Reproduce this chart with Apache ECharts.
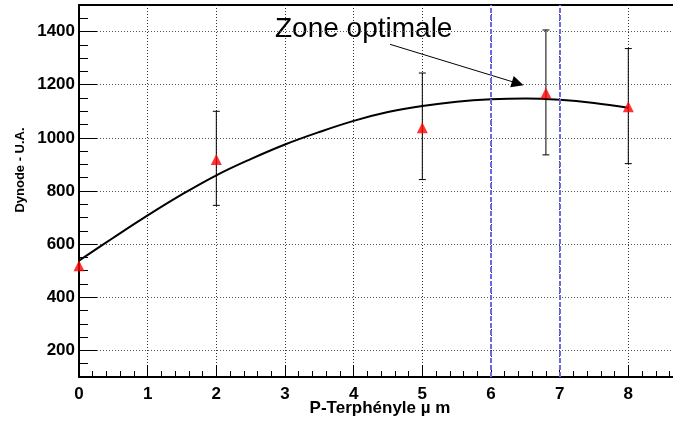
<!DOCTYPE html>
<html><head><meta charset="utf-8">
<script src="https://cdn.jsdelivr.net/npm/echarts@6/dist/echarts.min.js"></script>
<style>html,body{margin:0;padding:0;background:#fff}#c{width:673px;height:421px}</style>
</head><body><div id="c"></div>
<script>
// measured points (P-Terphényle thickness, dynode signal)
const pointX = [0, 2, 5, 6.8, 8];
const pointY = [519, 919, 1038, 1169, 1117];
const errLow = [null, 746, 843, 936, 903];
const errHigh = [null, 1100, 1244, 1406, 1336];
// fitted curve
const curveX = [0, 0.5, 1, 1.5, 2, 2.5, 3, 3.5, 4, 4.5, 5, 5.5, 6, 6.5, 7, 7.5, 8];
const curveY = [538, 624, 708, 787, 859, 920, 975, 1022, 1064, 1097, 1120, 1136, 1145, 1148, 1143, 1131, 1113];
// optimal zone bounds
const zoneX = [6, 7];
// annotation
const annotText = 'Zone optimale';
const arrowFrom = [4.53, 1352];
const arrowTo = [6.39, 1205];
const xTitle = 'P-Terphényle µ m';
const yTitle = 'Dynode - U.A.';

const X_MIN = 0, X_MAX = 8.68, Y_MIN = 100, Y_MAX = 1500;
const font = 'Liberation Sans, Arial, Helvetica, sans-serif';

const chart = echarts.init(document.getElementById('c'), null, {renderer: 'canvas'});

const errData = pointX.map((x, i) => [x, errLow[i], errHigh[i]]).filter(d => d[1] != null);

chart.setOption({
  animation: false,
  backgroundColor: '#fff',
  grid: {left: 79, right: -2, top: 5, bottom: 44, show: true, borderColor: '#000', borderWidth: 2, outerBoundsMode: 'none', containLabel: false},
  xAxis: [{
    type: 'value', min: X_MIN, max: X_MAX, interval: 1, position: 'bottom',
    axisLine: {show: true, lineStyle: {color: '#000', width: 2}},
    axisTick: {show: true, inside: true, length: 12, lineStyle: {color: '#000', width: 1}},
    axisLabel: {show: true, showMaxLabel: false, margin: 9, color: '#000', fontFamily: font, fontWeight: 'bold', fontSize: 17, formatter: v => String(v)},
    splitLine: {show: true, showMinLine: false, showMaxLine: false, lineStyle: {color: '#333', width: 1, type: [1, 2]}}
  }, {
    type: 'value', min: X_MIN, max: X_MAX, interval: 0.2, position: 'bottom',
    axisLine: {show: false},
    axisTick: {show: true, inside: true, length: 6, lineStyle: {color: '#000', width: 1}},
    axisLabel: {show: false}, splitLine: {show: false}
  }],
  yAxis: [{
    type: 'value', min: Y_MIN, max: Y_MAX, splitNumber: 7, position: 'left',
    axisLine: {show: true, lineStyle: {color: '#000', width: 2}},
    axisTick: {show: true, inside: true, length: 18, lineStyle: {color: '#000', width: 1}},
    axisLabel: {show: true, showMinLabel: false, showMaxLabel: false, margin: 4, color: '#000', fontFamily: font, fontWeight: 'bold', fontSize: 17, formatter: v => String(v)},
    splitLine: {show: true, showMinLine: false, showMaxLine: false, lineStyle: {color: '#555', width: 1, type: [1, 2]}}
  }, {
    type: 'value', min: Y_MIN, max: Y_MAX, interval: 50, position: 'left',
    axisLine: {show: false},
    axisTick: {show: true, inside: true, length: 9, lineStyle: {color: '#000', width: 1}},
    axisLabel: {show: false}, splitLine: {show: false}
  }],
  series: [
    {
      type: 'line', name: 'fit', xAxisIndex: 0, yAxisIndex: 0,
      data: curveX.map((x, i) => [x, curveY[i]]),
      smooth: 0.4, showSymbol: false, symbol: 'none',
      lineStyle: {color: '#000', width: 2}, z: 3,
      markLine: {
        silent: true, animation: false,
        symbol: ['none', 'triangle'], symbolSize: 12,
        label: {show: false},
        lineStyle: {color: '#000', width: 1, type: 'solid'},
        itemStyle: {color: '#000'},
        data: [[{coord: arrowFrom}, {coord: arrowTo}]]
      }
    },
    {
      type: 'custom', name: 'err', xAxisIndex: 0, yAxisIndex: 0,
      data: errData, z: 4,
      renderItem: function (params, api) {
        const x = api.value(0), lo = api.value(1), hi = api.value(2);
        const p1 = api.coord([x, hi]), p2 = api.coord([x, lo]);
        const w = 3.5;
        const st = {stroke: '#000', lineWidth: 1};
        return {type: 'group', children: [
          {type: 'line', shape: {x1: p1[0], y1: p1[1], x2: p2[0], y2: p2[1]}, style: st},
          {type: 'line', shape: {x1: p1[0] - w, y1: p1[1], x2: p1[0] + w, y2: p1[1]}, style: st},
          {type: 'line', shape: {x1: p2[0] - w, y1: p2[1], x2: p2[0] + w, y2: p2[1]}, style: st}
        ]};
      }
    },
    {
      type: 'scatter', name: 'data', xAxisIndex: 0, yAxisIndex: 0,
      data: pointX.map((x, i) => [x, pointY[i]]),
      symbol: 'triangle', symbolSize: 11,
      itemStyle: {color: '#ff0000'}, z: 5,
      markLine: {
        silent: true, animation: false, symbol: ['none', 'none'],
        label: {show: false},
        lineStyle: {color: '#6a6ae6', width: 2, type: [5, 2]},
        data: zoneX.map(v => ({xAxis: v}))
      }
    }
  ],
  graphic: [
    {type: 'text', left: 275, top: 15, style: {text: annotText, fill: '#000', font: 'normal 28px ' + font}},
    {type: 'text', x: 380, y: 408.5, style: {text: xTitle, fill: '#000', font: 'bold 17px ' + font, align: 'center', verticalAlign: 'middle'}},
    {type: 'text', x: 20, y: 170, rotation: Math.PI / 2, style: {text: yTitle, fill: '#000', font: 'bold 13px ' + font, align: 'center', verticalAlign: 'middle'}}
  ]
});
</script></body></html>
